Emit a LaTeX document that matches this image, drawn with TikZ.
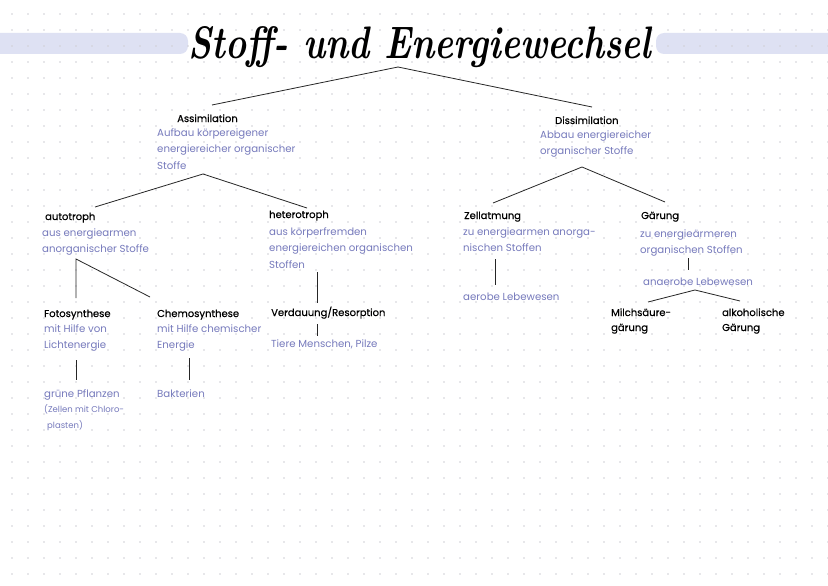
\documentclass[tikz,border=0pt]{standalone}
\usepackage{fontspec}
\usepackage{graphicx}
\setmainfont{Poppins}
\newfontfamily\lblfont[FakeBold=0.5]{Poppins}
\definecolor{bluetxt}{RGB}{118,122,188}
\definecolor{band}{RGB}{222,225,243}
\definecolor{dotc}{RGB}{208,208,214}
\newcommand\lines[1]{\begin{tabular}[t]{@{}l@{}}#1\end{tabular}}
\tikzset{
  lbl/.style={anchor=base west, inner sep=0pt, text=black, font=\lblfont\fontsize{10}{15}\selectfont},
  sub/.style={anchor=base west, inner sep=0pt, text=bluetxt, font=\fontsize{10.2}{16.5}\selectfont},
  conn/.style={draw=black!85, line width=0.8pt},
}
\begin{document}
\begin{tikzpicture}[x=1pt,y=-1pt]
\useasboundingbox (0,0) rectangle (828,586);
\fill[white] (0,0) rectangle (828,586);
% highlight bands
\fill[band, rounded corners=8pt] (-10,33) rectangle (188,54);
\fill[band, rounded corners=8pt] (656,33) rectangle (840,54);
% dot grid
\foreach \i in {0,...,51}{
  \foreach \j in {0,...,36}{
    \fill[dotc] ({12+16*\i},{14+16*\j}) circle (0.8);
  }
}
% title
\node[anchor=base, inner sep=0pt] (title) at (420,59)
  {\resizebox{463pt}{32pt}{\fontspec{Latin Modern Roman}\bfseries\itshape Stoff- und Energiewechsel}};
\coordinate (tA) at (398,67);
\coordinate (tL) at (212,105);
\coordinate (tR) at (592,107);
\draw[conn] (tL) -- (tA) -- (tR);

% Assimilation
\node[lbl] (assim) at (177,122) {Assimilation};
\node[sub] (assimd) at (157,136) {\lines{Aufbau körpereigener\\energiereicher organischer\\Stoffe}};
\coordinate (aA) at (203,174);
\coordinate (aL) at (95,207);
\coordinate (aR) at (307,208);
\draw[conn] (aL) -- (aA) -- (aR);

% Dissimilation
\node[lbl] (dissim) at (555,124) {Dissimilation};
\node[sub] (dissimd) at (540,138) {\lines{Abbau energiereicher\\organischer Stoffe}};
\coordinate (dA) at (582,167);
\coordinate (dL) at (493,203);
\coordinate (dR) at (665,202);
\draw[conn] (dL) -- (dA) -- (dR);

% autotroph
\node[lbl] (auto) at (45,220) {autotroph};
\node[sub] (autod) at (42,236) {\lines{aus energiearmen\\anorganischer Stoffe}};
\coordinate (auA) at (76,259);
\coordinate (auL) at (76,298);
\coordinate (auR) at (150,297);
\draw[conn] (auL) -- (auA) -- (auR);

% heterotroph
\node[lbl] (hetero) at (269,218) {heterotroph};
\node[sub] (heterod) at (269,235) {\lines{aus körperfremden\\energiereichen organischen\\Stoffen}};
\coordinate (hT) at (317,272);
\coordinate (hB) at (317,303);
\draw[conn] (hT) -- (hB);

% Zellatmung
\node[lbl] (zell) at (464,219) {Zellatmung};
\node[sub] (zelld) at (463,235) {\lines{zu energiearmen anorga-\\nischen Stoffen}};
\coordinate (zT) at (495,259);
\coordinate (zB) at (495,285);
\draw[conn] (zT) -- (zB);
\node[sub] (aerob) at (463,300) {aerobe Lebewesen};

% Gaerung
\node[lbl] (gaer) at (641,219) {Gärung};
\node[sub] (gaerd) at (640,237) {\lines{zu energieärmeren\\organischen Stoffen}};
\coordinate (gT) at (688,258);
\coordinate (gB) at (688,270);
\draw[conn] (gT) -- (gB);
\node[sub] (anaerob) at (643,285) {anaerobe Lebewesen};
\coordinate (gA) at (695,290);
\coordinate (gL) at (648,302);
\coordinate (gR) at (740,301);
\draw[conn] (gL) -- (gA) -- (gR);
\node[lbl] (milch) at (611,316) {\lines{Milchsäure-\\gärung}};
\node[lbl] (alko) at (722,316) {\lines{alkoholische\\Gärung}};

% Fotosynthese
\node[lbl] (foto) at (44,317) {Fotosynthese};
\node[sub] (fotod) at (44,332) {\lines{mit Hilfe von\\Lichtenergie}};
\coordinate (fT) at (76,360);
\coordinate (fB) at (76,380);
\draw[conn] (fT) -- (fB);
\node[sub] (pfl) at (44,397) {grüne Pflanzen};
\node[sub, font=\fontsize{8.5}{16}\selectfont] (zellen) at (44,412) {\lines{(Zellen mit Chloro-\\\hspace{3pt}plasten)}};

% Chemosynthese
\node[lbl] (chemo) at (157,317) {Chemosynthese};
\node[sub] (chemod) at (157,332) {\lines{mit Hilfe chemischer\\Energie}};
\coordinate (cT) at (189,358);
\coordinate (cB) at (189,380);
\draw[conn] (cT) -- (cB);
\node[sub] (bakt) at (157,397) {Bakterien};

% Verdauung
\node[lbl] (verd) at (271,316) {Verdauung/Resorption};
\coordinate (vT) at (317,324);
\coordinate (vB) at (317,336);
\draw[conn] (vT) -- (vB);
\node[sub] (tiere) at (271,347) {Tiere Menschen, Pilze};
\end{tikzpicture}
\end{document}
